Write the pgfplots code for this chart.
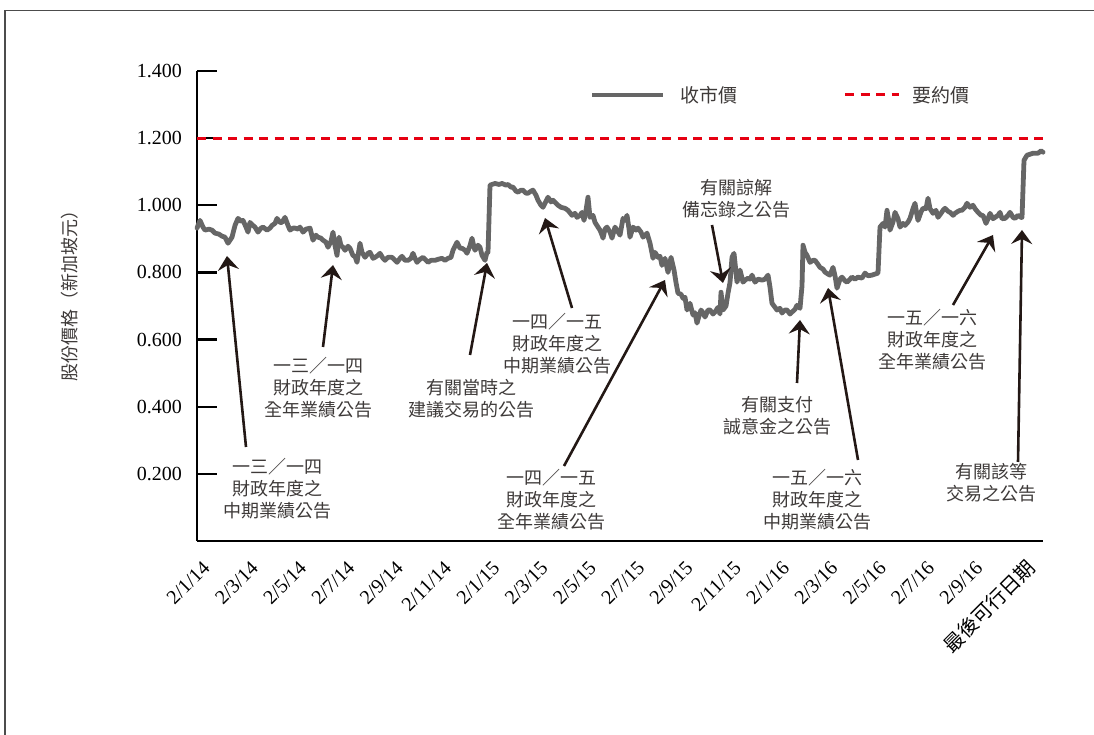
\documentclass[border=0pt]{standalone}
\usepackage{pgfplots}
\pgfplotsset{compat=1.18}
\usepackage{pgfplotstable}
\usepackage{fontspec}
\setmainfont{Liberation Serif}
\newfontfamily\cjk{Noto Sans CJK TC}
\usetikzlibrary{arrows.meta}
\definecolor{linegray}{HTML}{666666}
\definecolor{offerred}{HTML}{E60012}
\definecolor{arrowc}{HTML}{231815}
\definecolor{txt}{HTML}{3E3A39}

% x = horizontal position (time index), y = closing price (S$)
\pgfplotstableread{
x y
197 0.932
200 0.955
203 0.935
205 0.926
209 0.929
212 0.926
215 0.917
219 0.914
222 0.908
225 0.905
228 0.887
232 0.905
235 0.940
238 0.961
241 0.952
243 0.955
246 0.935
248 0.920
250 0.949
253 0.940
255 0.935
258 0.920
261 0.932
263 0.935
267 0.926
270 0.932
272 0.940
275 0.946
277 0.961
280 0.949
282 0.949
285 0.964
288 0.940
290 0.926
293 0.932
295 0.932
298 0.929
300 0.935
303 0.920
306 0.929
310 0.932
313 0.896
316 0.911
318 0.905
321 0.902
323 0.896
326 0.890
328 0.875
331 0.893
333 0.920
335 0.880
337 0.851
339 0.905
341 0.880
343 0.875
345 0.866
348 0.878
350 0.872
353 0.850
355 0.848
357 0.830
360 0.887
362 0.860
365 0.845
368 0.857
370 0.860
373 0.842
375 0.845
378 0.851
380 0.857
383 0.842
385 0.836
388 0.845
392 0.845
395 0.836
397 0.830
400 0.842
402 0.848
405 0.836
408 0.836
411 0.842
413 0.857
415 0.842
417 0.830
420 0.839
423 0.845
426 0.836
428 0.830
431 0.836
435 0.836
438 0.839
442 0.842
445 0.836
448 0.842
451 0.845
453 0.866
455 0.878
457 0.890
460 0.872
462 0.872
465 0.866
467 0.857
470 0.880
472 0.902
474 0.875
475 0.866
478 0.881
480 0.875
482 0.851
485 0.836
487 0.860
488 0.860
490 1.060
495 1.065
499 1.062
502 1.065
506 1.060
508 1.062
511 1.054
513 1.054
516 1.042
518 1.039
521 1.045
523 1.045
526 1.036
528 1.036
531 1.042
533 1.045
536 1.030
538 1.015
541 1.000
543 0.994
546 1.012
548 1.024
551 1.010
553 1.015
556 1.006
558 1.000
561 0.994
565 0.991
568 0.985
572 0.970
575 0.976
577 0.964
580 0.970
582 0.979
584 0.955
586 0.985
588 1.024
590 0.964
593 0.970
595 0.949
598 0.935
600 0.926
602 0.911
603 0.902
605 0.929
607 0.935
610 0.920
612 0.902
615 0.935
617 0.926
620 0.911
623 0.961
625 0.955
627 0.970
629 0.930
630 0.905
633 0.935
636 0.926
638 0.932
641 0.920
643 0.905
645 0.911
647 0.917
650 0.887
653 0.842
655 0.860
658 0.845
660 0.848
662 0.821
665 0.842
668 0.800
671 0.845
674 0.807
676 0.770
678 0.738
681 0.735
683 0.723
685 0.726
687 0.688
690 0.708
693 0.673
695 0.680
697 0.649
699 0.670
701 0.688
703 0.680
705 0.667
708 0.688
710 0.688
713 0.676
715 0.682
718 0.696
720 0.676
721 0.741
723 0.688
726 0.700
728 0.738
730 0.770
732 0.845
734 0.857
736 0.800
737 0.771
740 0.807
743 0.771
745 0.777
748 0.783
750 0.780
752 0.792
755 0.771
758 0.780
762 0.777
765 0.780
768 0.792
770 0.756
772 0.708
775 0.696
777 0.688
780 0.693
782 0.679
785 0.688
787 0.688
790 0.676
792 0.682
795 0.690
797 0.702
800 0.693
802 0.760
803 0.881
805 0.860
807 0.851
810 0.830
813 0.836
815 0.836
818 0.824
820 0.815
823 0.810
825 0.801
828 0.795
830 0.792
833 0.815
835 0.790
837 0.753
840 0.780
842 0.786
845 0.775
847 0.771
850 0.780
852 0.786
855 0.780
858 0.786
862 0.783
865 0.798
868 0.790
872 0.792
875 0.795
878 0.798
880 0.935
883 0.946
885 0.935
887 0.985
889 0.950
890 0.926
893 0.950
895 0.979
898 0.960
900 0.935
903 0.946
905 0.940
908 0.950
910 0.961
913 0.990
915 1.006
917 0.970
918 0.955
921 0.980
923 0.991
926 0.990
928 1.021
930 0.990
933 0.976
936 0.985
938 0.964
941 0.976
943 0.985
945 0.991
948 0.982
950 0.979
953 0.970
955 0.976
958 0.982
960 0.985
962 0.985
965 0.994
967 1.006
970 0.994
973 1.000
975 0.990
978 0.979
981 0.970
983 0.970
986 0.946
988 0.960
990 0.976
993 0.960
995 0.964
998 0.970
1000 0.979
1002 0.960
1005 0.961
1008 0.970
1010 0.979
1013 0.964
1015 0.961
1018 0.970
1021 0.964
1022 0.964
1024 1.134
1027 1.149
1030 1.152
1033 1.155
1036 1.155
1038 1.155
1041 1.162
1043 1.158
}\closeprice

\begin{document}
\begin{tikzpicture}[x=1pt,y=1pt]
\path[use as bounding box] (0,0) rectangle (1094,735);
\draw[black!70, line width=1.2pt] (5,0) -- (5,724.5) -- (1094,724.5);
\begin{axis}[
  at={(197pt,194pt)}, anchor=south west,
  scale only axis, width=846pt, height=470pt,
  xmin=197, xmax=1043, ymin=0, ymax=1.4,
  clip=false,
  axis lines=left,
  axis line style={-, line width=2.4pt, black},
  xtick={210,258.3,306.6,354.9,403.2,451.5,499.8,548.1,596.4,644.7,693,741.3,789.6,837.9,886.2,934.5,982.8},
  xticklabels={2/1/14,2/3/14,2/5/14,2/7/14,2/9/14,2/11/14,2/1/15,2/3/15,2/5/15,2/7/15,2/9/15,2/11/15,2/1/16,2/3/16,2/5/16,2/7/16,2/9/16},
  extra x ticks={1040},
  extra x tick labels={{\cjk 最後可行日期}},
  extra x tick style={xticklabel style={xshift=-2.5pt, yshift=6.7pt}},
  x tick style={draw=none},
  xticklabel style={font=\fontsize{20}{24}\selectfont, xshift=-8.5pt, yshift=-9pt, rotate=45, anchor=north east, inner sep=0pt},
  ytick={0.2,0.4,0.6,0.8,1.0,1.2,1.4},
  ytick align=inside,
  major tick length=20pt,
  y tick style={line width=2.4pt, black},
  /pgf/number format/assume math mode=true,
  yticklabel style={font=\fontsize{20}{24}\selectfont, inner sep=0pt, xshift=-15pt,
    /pgf/number format/fixed, /pgf/number format/fixed zerofill, /pgf/number format/precision=3},
]
\addplot[offerred, line width=3pt, dash pattern=on 9pt off 6.5pt] coordinates {(197,1.2) (1043,1.2)};
\addplot[linegray, line width=4.8pt, line join=round, line cap=round] table[x=x, y=y] {\closeprice};
\end{axis}

% legend
\draw[linegray, line width=4.6pt] (592,640) -- (663,640);
\node[anchor=west, font=\cjk\fontsize{19}{22}\selectfont, txt] at (677,640) {收市價};
\draw[offerred, line width=3pt, dash pattern=on 9pt off 6.5pt] (845,640) -- (899,640);
\node[anchor=west, font=\cjk\fontsize{19}{22}\selectfont, txt] at (909,640) {要約價};

% y label
\node[rotate=90, font=\cjk\fontsize{18}{22}\selectfont, txt] at (70,443) {股份價格（新加坡元）};

% arrows
\tikzset{ann/.style={arrowc, line width=2.6pt, -{Stealth[length=14pt,width=21pt,inset=5pt]}},
         lbl/.style={align=center, font=\cjk\fontsize{18}{22}\selectfont, txt}}
\draw[ann] (246,288) -- (227,479);
\draw[ann] (323,388) -- (333,470);
\draw[ann] (470,380) -- (487,472);
\draw[ann] (572,427) -- (545,517);
\draw[ann] (564,269) -- (665,455);
\draw[ann] (712,510) -- (723,452);
\draw[ann] (797,352) -- (800,415);
\draw[ann] (858,275) -- (828,447);
\draw[ann] (953,430) -- (993,500);
\draw[ann] (1018,273) -- (1022,505);

% annotation texts
\node[lbl] at (277,246) {一三／一四\\財政年度之\\中期業績公告};
\node[lbl] at (318,347) {一三／一四\\財政年度之\\全年業績公告};
\node[lbl] at (471,336) {有關當時之\\建議交易的公告};
\node[lbl] at (557,391) {一四／一五\\財政年度之\\中期業績公告};
\node[lbl] at (551,235) {一四／一五\\財政年度之\\全年業績公告};
\node[lbl] at (736,536) {有關諒解\\備忘錄之公告};
\node[lbl] at (777,319) {有關支付\\誠意金之公告};
\node[lbl] at (817,235) {一五／一六\\財政年度之\\中期業績公告};
\node[lbl] at (932,395) {一五／一六\\財政年度之\\全年業績公告};
\node[lbl] at (991,252) {有關該等\\交易之公告};
\end{tikzpicture}
\end{document}
